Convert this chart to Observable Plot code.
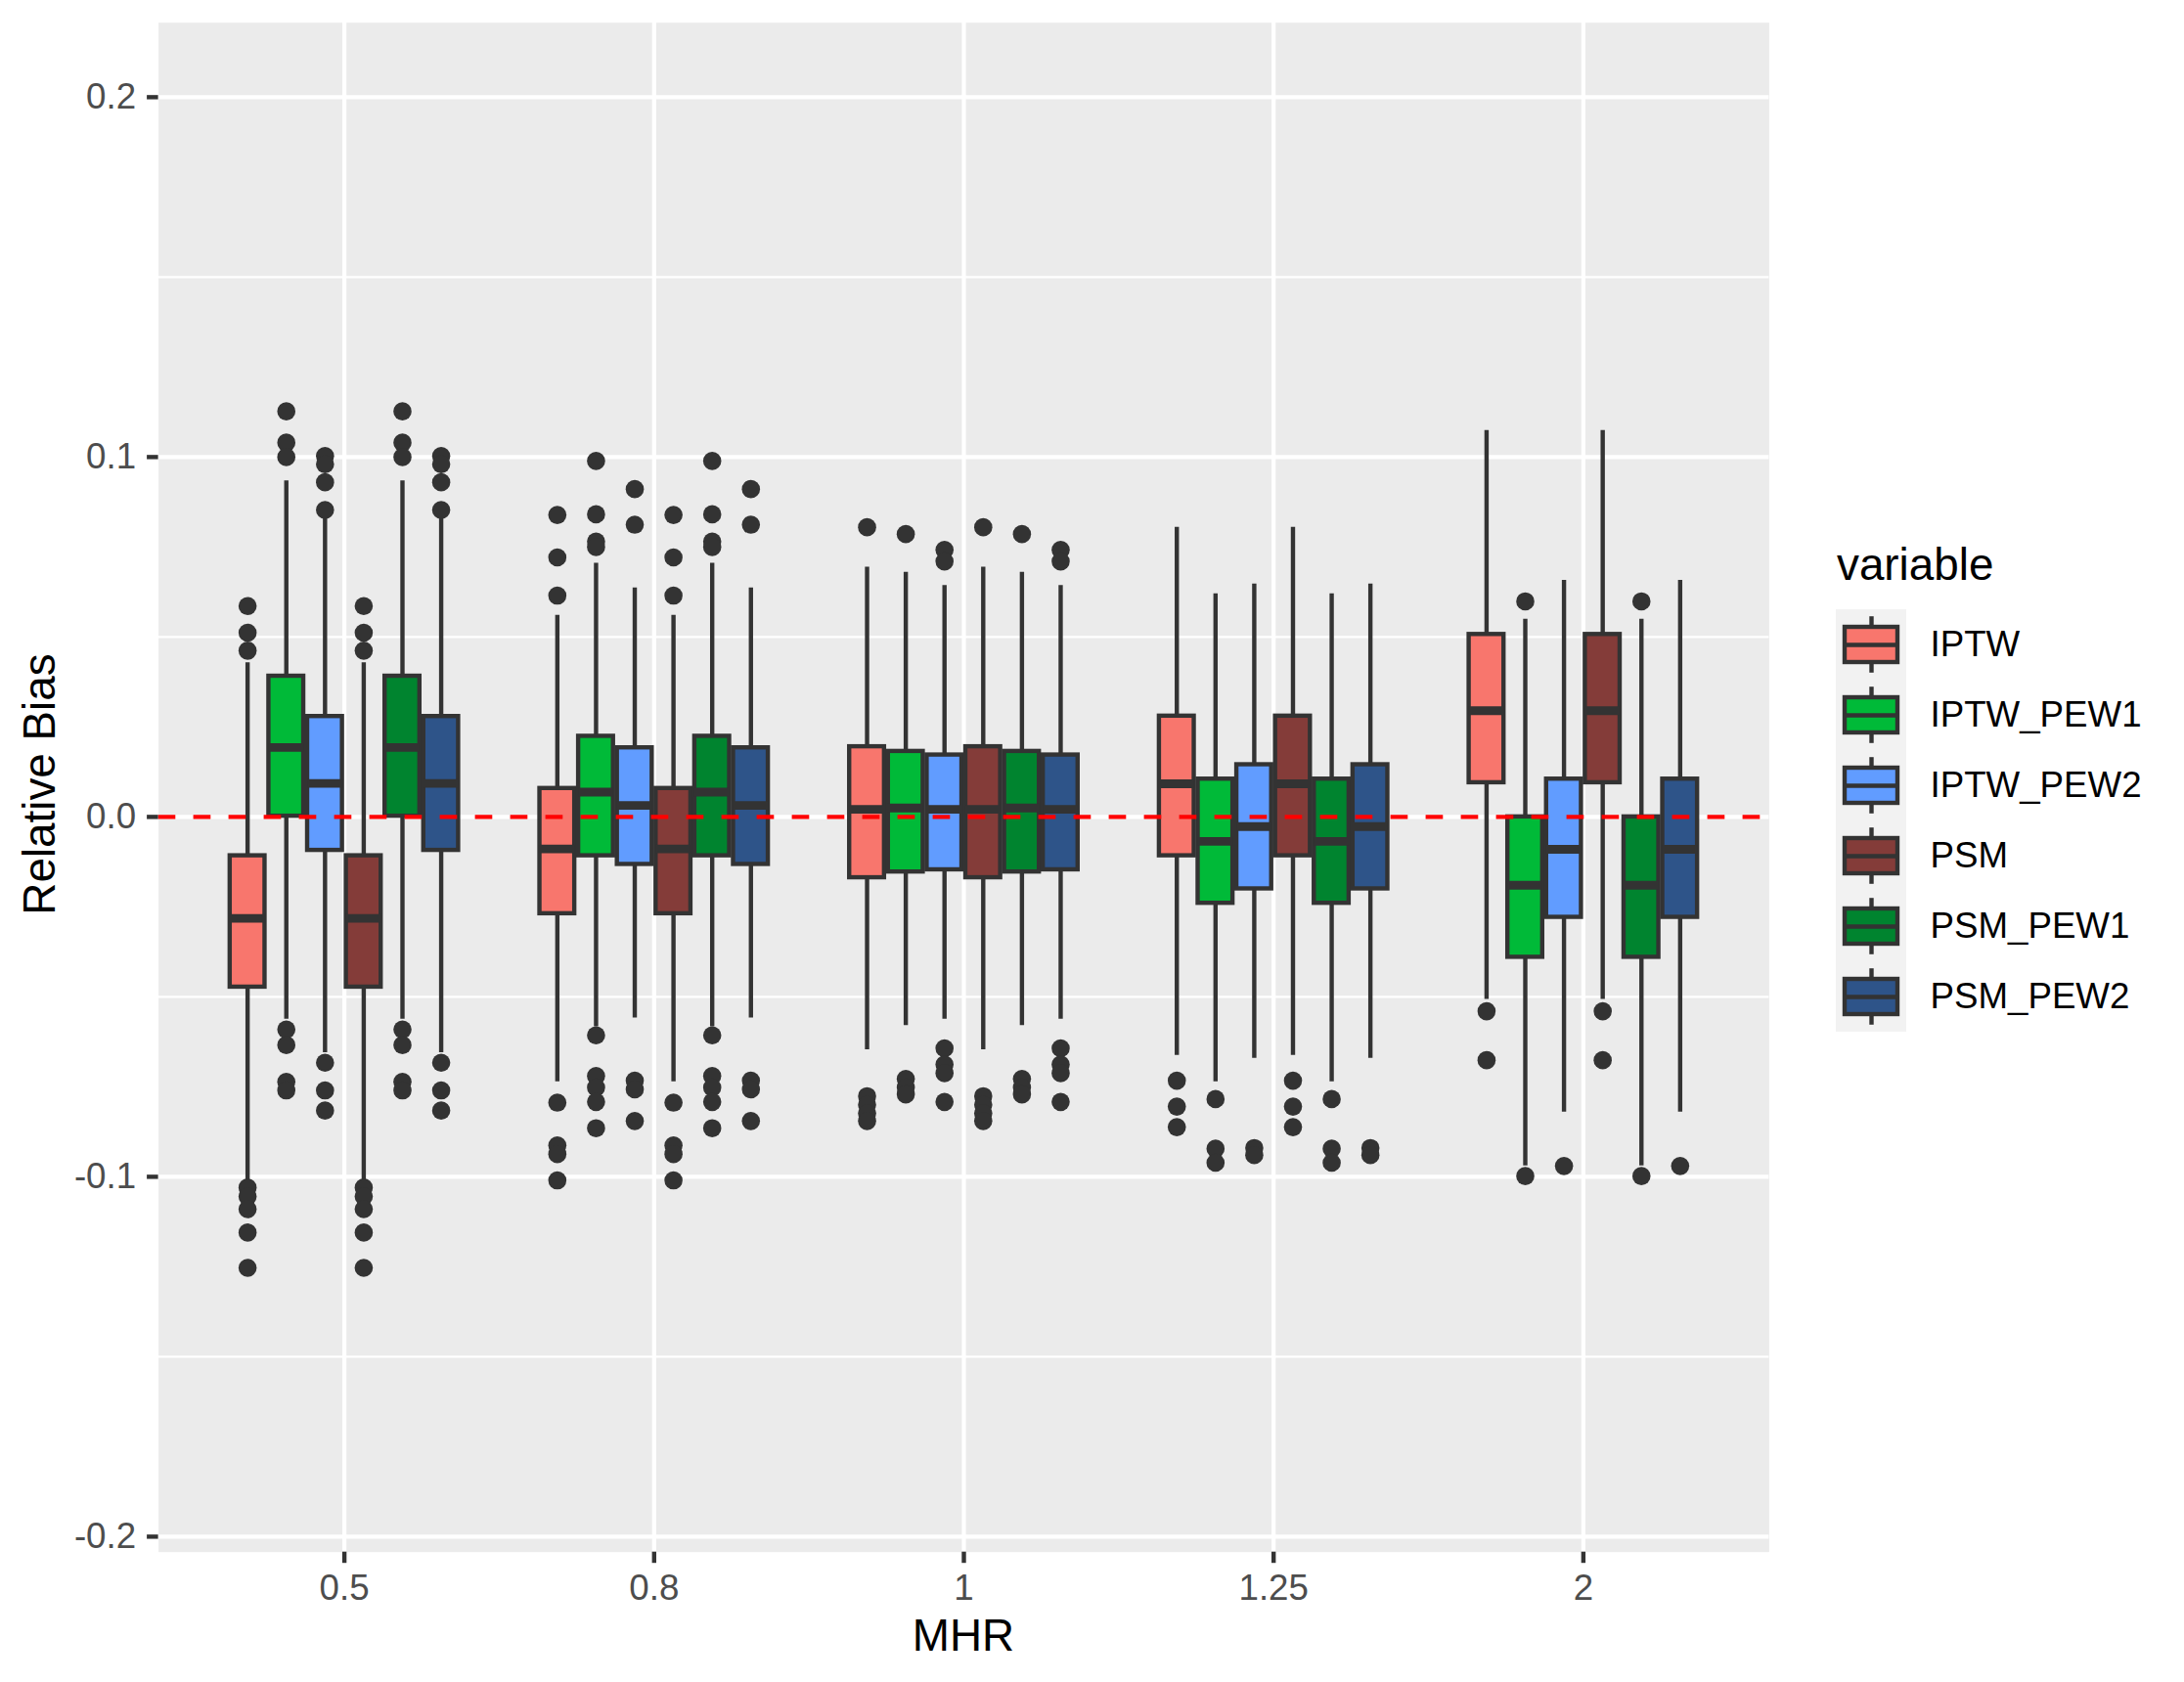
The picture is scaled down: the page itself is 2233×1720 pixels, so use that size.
<!DOCTYPE html>
<html>
<head>
<meta charset="utf-8">
<script src="https://cdn.jsdelivr.net/npm/d3@7"></script>
<script src="https://cdn.jsdelivr.net/npm/@observablehq/plot@0.6"></script>
<style>
html, body { margin: 0; padding: 0; background: #ffffff; }
#wrap { position: relative; width: 2233px; height: 1720px; overflow: hidden; background: #ffffff;
        font-family: "Liberation Sans", Arial, Helvetica, sans-serif; }
#wrap > svg, #wrap > figure { position: absolute; margin: 0; }
</style>
</head>
<body>
<div id="wrap"></div>
<script>
// ---------------- DATA ----------------
const mhrLabels = ["0.5", "0.8", "1", "1.25", "2"];
const variables = ["IPTW", "IPTW_PEW1", "IPTW_PEW2", "PSM", "PSM_PEW1", "PSM_PEW2"];
const fillColors = ["#F8766D", "#00BA38", "#619CFF", "#843C39", "#00842F", "#2E5489"];
const yTickValues = [-0.2, -0.1, 0.0, 0.1, 0.2];
const yMinorValues = [-0.15, -0.05, 0.05, 0.15];

// rows = variables, columns = MHR levels
const whiskerLow = [
  [-0.1013, -0.0736, -0.0647, -0.0663, -0.0507],
  [-0.0562, -0.0583, -0.0580, -0.0736, -0.0970],
  [-0.0655, -0.0559, -0.0562, -0.0671, -0.0820],
  [-0.1013, -0.0736, -0.0647, -0.0663, -0.0507],
  [-0.0562, -0.0583, -0.0580, -0.0736, -0.0970],
  [-0.0655, -0.0559, -0.0562, -0.0671, -0.0820]
];
const boxQ1 = [
  [-0.0473, -0.0269, -0.0169, -0.0108, 0.0095],
  [ 0.0002, -0.0108, -0.0153, -0.0240, -0.0390],
  [-0.0093, -0.0132, -0.0147, -0.0200, -0.0279],
  [-0.0473, -0.0269, -0.0169, -0.0108, 0.0095],
  [ 0.0002, -0.0108, -0.0153, -0.0240, -0.0390],
  [-0.0093, -0.0132, -0.0147, -0.0200, -0.0279]
];
const boxMedian = [
  [-0.0282, -0.0089, 0.0021, 0.0092, 0.0295],
  [ 0.0193,  0.0069, 0.0025, -0.0068, -0.0190],
  [ 0.0093,  0.0032, 0.0021, -0.0027, -0.0090],
  [-0.0282, -0.0089, 0.0021, 0.0092, 0.0295],
  [ 0.0193,  0.0069, 0.0025, -0.0068, -0.0190],
  [ 0.0093,  0.0032, 0.0021, -0.0027, -0.0090]
];
const boxQ3 = [
  [-0.0108, 0.0079, 0.0195, 0.0280, 0.0507],
  [ 0.0391, 0.0224, 0.0182, 0.0105, 0.0000],
  [ 0.0279, 0.0192, 0.0172, 0.0145, 0.0105],
  [-0.0108, 0.0079, 0.0195, 0.0280, 0.0507],
  [ 0.0391, 0.0224, 0.0182, 0.0105, 0.0000],
  [ 0.0279, 0.0192, 0.0172, 0.0145, 0.0105]
];
const whiskerHigh = [
  [0.0428, 0.0560, 0.0694, 0.0805, 0.1074],
  [0.0934, 0.0705, 0.0680, 0.0620, 0.0549],
  [0.0829, 0.0636, 0.0643, 0.0647, 0.0657],
  [0.0428, 0.0560, 0.0694, 0.0805, 0.1074],
  [0.0934, 0.0705, 0.0680, 0.0620, 0.0549],
  [0.0829, 0.0636, 0.0643, 0.0647, 0.0657]
];
const outliers = [
  [[0.0586, 0.0512, 0.0462, -0.1030, -0.1055, -0.1090, -0.1155, -0.1253],
   [0.0839, 0.0721, 0.0615, -0.0794, -0.0913, -0.0937, -0.1010],
   [0.0805, -0.0776, -0.0800, -0.0824, -0.0845],
   [-0.0733, -0.0805, -0.0862],
   [-0.0540, -0.0676]],
  [[0.1127, 0.1040, 0.1000, -0.0591, -0.0634, -0.0736, -0.0760],
   [0.0989, 0.0841, 0.0765, 0.0750, -0.0607, -0.0720, -0.0752, -0.0792, -0.0865],
   [0.0786, -0.0728, -0.0752, -0.0771],
   [-0.0784, -0.0922, -0.0961],
   [0.0599, -0.0998]],
  [[0.1003, 0.0980, 0.0930, 0.0853, -0.0683, -0.0760, -0.0816],
   [0.0911, 0.0812, -0.0733, -0.0757, -0.0845],
   [0.0742, 0.0710, -0.0643, -0.0688, -0.0712, -0.0792],
   [-0.0920, -0.0940],
   [-0.0970]],
  [[0.0586, 0.0512, 0.0462, -0.1030, -0.1055, -0.1090, -0.1155, -0.1253],
   [0.0839, 0.0721, 0.0615, -0.0794, -0.0913, -0.0937, -0.1010],
   [0.0805, -0.0776, -0.0800, -0.0824, -0.0845],
   [-0.0733, -0.0805, -0.0862],
   [-0.0540, -0.0676]],
  [[0.1127, 0.1040, 0.1000, -0.0591, -0.0634, -0.0736, -0.0760],
   [0.0989, 0.0841, 0.0765, 0.0750, -0.0607, -0.0720, -0.0752, -0.0792, -0.0865],
   [0.0786, -0.0728, -0.0752, -0.0771],
   [-0.0784, -0.0922, -0.0961],
   [0.0599, -0.0998]],
  [[0.1003, 0.0980, 0.0930, 0.0853, -0.0683, -0.0760, -0.0816],
   [0.0911, 0.0812, -0.0733, -0.0757, -0.0845],
   [0.0742, 0.0710, -0.0643, -0.0688, -0.0712, -0.0792],
   [-0.0920, -0.0940],
   [-0.0970]]
];

// ---------------- build tables for the marks ----------------
const dodgeWidth = 0.75;                 // ggplot dodge width
const slot = dodgeWidth / variables.length;
const boxPadding = 0.1;                  // position_dodge2 padding
const halfBox = slot * (1 - boxPadding) / 2;

const boxes = [];
const outlierRows = [];
variables.forEach((v, vi) => {
  mhrLabels.forEach((m, mi) => {
    const pos = (mi + 1) - dodgeWidth / 2 + slot * (vi + 0.5);
    boxes.push({
      variable: v, mhr: m, pos,
      lo: whiskerLow[vi][mi], q1: boxQ1[vi][mi], med: boxMedian[vi][mi],
      q3: boxQ3[vi][mi], hi: whiskerHigh[vi][mi]
    });
    outliers[vi][mi].forEach(val => outlierRows.push({variable: v, mhr: m, pos, value: val}));
  });
});
const mhrIndex = mhrLabels.map((d, i) => i + 1);

const FONT = '"Liberation Sans", Arial, Helvetica, sans-serif';
const DARK = "#333333";
const LW = 4.4;

// ---------------- main panel ----------------
const main = Plot.plot({
  width: 1830,
  height: 1720,
  marginLeft: 161.6,
  marginRight: 21.6,
  marginTop: 22.7,
  marginBottom: 133.3,
  style: {fontFamily: FONT, background: "transparent", overflow: "visible"},
  x: {type: "linear", domain: [0.4, 5.6]},
  y: {type: "linear", domain: [-0.2043, 0.2207]},
  color: {domain: variables, range: fillColors},
  marks: [
    Plot.frame({fill: "#EBEBEB", stroke: "none"}),
    Plot.ruleY(yMinorValues, {stroke: "#FFFFFF", strokeWidth: 2.1}),
    Plot.ruleY(yTickValues, {stroke: "#FFFFFF", strokeWidth: 4.2}),
    Plot.ruleX(mhrIndex, {stroke: "#FFFFFF", strokeWidth: 4.2}),
    Plot.ruleX(boxes, {x: "pos", y1: "lo", y2: "q1", stroke: DARK, strokeWidth: LW}),
    Plot.ruleX(boxes, {x: "pos", y1: "q3", y2: "hi", stroke: DARK, strokeWidth: LW}),
    Plot.rect(boxes, {
      x1: d => d.pos - halfBox, x2: d => d.pos + halfBox,
      y1: "q1", y2: "q3", fill: "variable", stroke: DARK, strokeWidth: LW
    }),
    Plot.ruleY(boxes, {
      y: "med", x1: d => d.pos - halfBox, x2: d => d.pos + halfBox,
      stroke: DARK, strokeWidth: 8.9
    }),
    Plot.dot(outlierRows, {x: "pos", y: "value", r: 9.3, fill: DARK, stroke: "none"}),
    Plot.ruleY([0], {stroke: "#FF0000", strokeWidth: 4.2, strokeDasharray: "17.7,18.3"}),
    Plot.axisY({
      ticks: yTickValues, tickFormat: d => d.toFixed(1),
      tickSize: 11.5, tickPadding: 11.5, fontSize: 36.7,
      stroke: DARK, fill: "#4D4D4D", strokeWidth: LW, label: null
    }),
    Plot.axisX({
      ticks: mhrIndex, tickFormat: d => mhrLabels[d - 1],
      tickSize: 11.5, tickPadding: 11, fontSize: 36.7,
      stroke: DARK, fill: "#4D4D4D", strokeWidth: LW, label: null
    })
  ]
});
main.style.left = "0px";
main.style.top = "0px";
document.getElementById("wrap").appendChild(main);

// ---------------- legend ----------------
const legendRows = variables.map((v, i) => ({variable: v, i}));
const keyPx = 72;
const legend = Plot.plot({
  width: 360,
  height: keyPx * variables.length,
  margin: 0,
  style: {fontFamily: FONT, background: "transparent", overflow: "visible"},
  x: {type: "linear", domain: [0, 5], range: [0, 360], axis: null},
  y: {type: "linear", domain: [0, variables.length], range: [0, keyPx * variables.length], axis: null},
  color: {domain: variables, range: fillColors},
  marks: [
    Plot.rect(legendRows, {x1: d => 0, x2: d => 1, y1: d => d.i, y2: d => d.i + 1, fill: "#F2F2F2"}),
    Plot.ruleX(legendRows, {x: d => 0.5, y1: d => d.i + 0.1, y2: d => d.i + 0.9, stroke: DARK, strokeWidth: LW}),
    Plot.rect(legendRows, {
      x1: d => 0.125, x2: d => 0.875, y1: d => d.i + 0.25, y2: d => d.i + 0.75,
      fill: "variable", stroke: DARK, strokeWidth: LW
    }),
    Plot.ruleY(legendRows, {y: d => d.i + 0.5, x1: d => 0.125, x2: d => 0.875, stroke: DARK, strokeWidth: LW}),
    Plot.text(legendRows, {
      x: d => 1, y: d => d.i + 0.5, text: "variable", textAnchor: "start",
      dx: 24, fontSize: 36.7, fill: "#000000"
    })
  ]
});
legend.style.left = "1876.7px";
legend.style.top = "622.6px";
document.getElementById("wrap").appendChild(legend);

// ---------------- titles ----------------
const overlay = d3.select("#wrap").append("svg")
  .attr("width", 2233).attr("height", 1720)
  .style("left", "0px").style("top", "0px")
  .style("pointer-events", "none")
  .style("font-family", FONT);

overlay.append("text")
  .attr("transform", "translate(55.7,802) rotate(-90)")
  .attr("text-anchor", "middle")
  .attr("font-size", 45.8)
  .attr("fill", "#000")
  .text("Relative Bias");

overlay.append("text")
  .attr("x", 985).attr("y", 1687.7)
  .attr("text-anchor", "middle")
  .attr("font-size", 45.8)
  .attr("fill", "#000")
  .text("MHR");

overlay.append("text")
  .attr("x", 1878).attr("y", 593.4)
  .attr("font-size", 45.8)
  .attr("fill", "#000")
  .text("variable");
</script>
</body>
</html>
